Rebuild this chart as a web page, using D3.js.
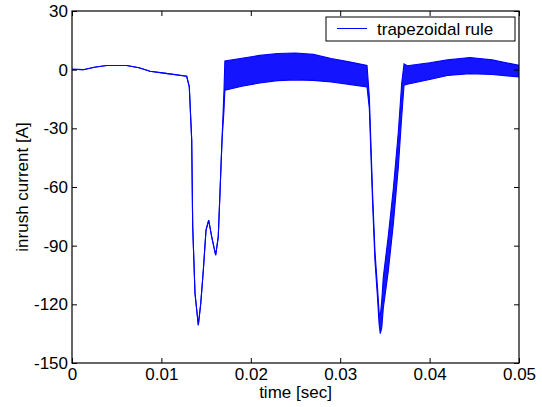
<!DOCTYPE html>
<html>

<head>
  <meta charset="utf-8">
  <title>Inrush current</title>
  <script src="https://cdnjs.cloudflare.com/ajax/libs/d3/7.8.5/d3.min.js"></script>
  <style>
    body {
      margin: 0;
      background: #fff;
    }

    text {
      font-family: "Liberation Sans", Arial, sans-serif;
      font-size: 17px;
      fill: #000;
    }
  </style>
</head>

<body>
  <div id="canvas"></div>

  <script>
    /*
    Data: time [s], upper and lower envelope of the current [A]
    (upper == lower where the trace is a single thin line)
    */
    var timeSec = [
      0, 0.00126, 0.0025, 0.00388, 0.00612, 0.0075, 0.00872, 0.0105, 0.01283,
      0.01312, 0.01339, 0.0135, 0.01376, 0.01413, 0.0144, 0.01469, 0.01499, 0.01529,
      0.01563, 0.01607, 0.01636, 0.01655, 0.01678, 0.017,
      0.0171, 0.019, 0.021, 0.023, 0.025, 0.027, 0.029, 0.031, 0.033,
      0.03326, 0.03363, 0.03389, 0.03415, 0.03435, 0.03448, 0.03465, 0.03482,
      0.03538, 0.03594, 0.0365, 0.03688, 0.03714,
      0.0375, 0.040, 0.042, 0.0445, 0.047, 0.050
    ];
    var upperA = [
      0.2, 0, 1.2, 2.1, 2.1, 1.0, -0.8, -1.9, -3.4,
      -8.8, -36, -80, -114.5, -130.7, -119.6, -102.6, -82, -77,
      -85.5, -94.9, -85.5, -63.3, -36, -10.5,
      4.4, 5.8, 7.3, 8.3, 8.5, 7.8, 5.7, 4.0, 2.2,
      -14, -64, -93, -110, -124, -126, -118, -106,
      -85, -61, -32, -7, 3,
      2, 3.5, 5, 6.2, 5, 2.2
    ];
    var lowerA = [
      0.2, 0, 1.2, 2.1, 2.1, 1.0, -0.8, -1.9, -3.4,
      -8.8, -36, -80, -114.5, -130.7, -119.6, -102.6, -82, -77,
      -85.5, -94.9, -85.5, -63.3, -36, -21,
      -10.5, -8.5, -6.8, -5.6, -5.2, -5.5, -6.3, -7.5, -8.8,
      -20, -69, -98, -115, -130, -135, -132, -122,
      -103, -79, -50, -24, -8,
      -7.5, -5, -3, -2, -2.5, -3.7
    ];
    var xTicks = [0, 0.01, 0.02, 0.03, 0.04, 0.05];
    var yTicks = [30, 0, -30, -60, -90, -120, -150];

    var outerWidth = 542,
      outerHeight = 407,
      margin = { "left": 72, "right": 23, "top": 11, "bottom": 44 },
      innerWidth = outerWidth - margin.left - margin.right,
      innerHeight = outerHeight - margin.top - margin.bottom;

    var data = timeSec.map(function (t, i) {
      return { t: t, hi: upperA[i], lo: lowerA[i] };
    });

    var x = d3.scaleLinear().domain([0, 0.05]).range([0, innerWidth]);
    var y = d3.scaleLinear().domain([-150, 30]).range([innerHeight, 0]);

    var svg = d3.select("#canvas")
      .append("svg")
      .attr("width", outerWidth)
      .attr("height", outerHeight);

    var g = svg.append("g")
      .attr("transform", "translate(" + margin.left + "," + margin.top + ")");

    // trace: filled band between envelopes plus its edges
    g.append("path")
      .datum(data)
      .attr("fill", "#0000ff")
      .attr("fill-opacity", 0.92)
      .attr("d", d3.area()
        .x((d) => x(d.t))
        .y0((d) => y(d.lo))
        .y1((d) => y(d.hi)));

    ["hi", "lo"].forEach(function (k) {
      g.append("path")
        .datum(data)
        .attr("fill", "none")
        .attr("stroke", "#0000ff")
        .attr("stroke-width", 1.1)
        .attr("d", d3.line()
          .x((d) => x(d.t))
          .y((d) => y(d[k])));
    });

    // axes, ticks pointing inwards
    var fmtX = (d) => d === 0 ? "0" : d3.format(".2f")(d);
    var fmtY = (d) => String(d);

    g.append("g")
      .attr("transform", "translate(0," + innerHeight + ")")
      .call(d3.axisBottom(x).tickValues(xTicks).tickFormat(fmtX)
        .tickSizeInner(-5).tickSizeOuter(0).tickPadding(5));
    g.append("g")
      .attr("class", "nolabels")
      .call(d3.axisTop(x).tickValues(xTicks)
        .tickSizeInner(-5).tickSizeOuter(0));
    g.append("g")
      .call(d3.axisLeft(y).tickValues(yTicks).tickFormat(fmtY)
        .tickSizeInner(-5).tickSizeOuter(0).tickPadding(4));
    g.append("g")
      .attr("class", "nolabels")
      .attr("transform", "translate(" + innerWidth + ",0)")
      .call(d3.axisRight(y).tickValues(yTicks)
        .tickSizeInner(-5).tickSizeOuter(0));

    g.selectAll(".domain").remove();
    g.selectAll(".nolabels text").remove();
    g.selectAll(".tick line").attr("stroke", "#000");
    g.selectAll(".tick text")
      .style("font-size", "17px")
      .style("font-family", "'Liberation Sans', Arial, sans-serif");

    g.append("rect")
      .attr("width", innerWidth)
      .attr("height", innerHeight)
      .attr("fill", "none")
      .attr("stroke", "#000")
      .attr("stroke-width", 1.2);

    // axis labels
    svg.append("text")
      .attr("x", margin.left + innerWidth / 2)
      .attr("y", 398)
      .attr("text-anchor", "middle")
      .text("time [sec]");

    svg.append("text")
      .attr("transform", "translate(28," + (margin.top + innerHeight / 2) + ") rotate(-90)")
      .attr("text-anchor", "middle")
      .text("inrush current [A]");

    // legend
    var lg = svg.append("g").attr("transform", "translate(326,17)");
    lg.append("rect")
      .attr("width", 189)
      .attr("height", 24)
      .attr("fill", "#fff")
      .attr("stroke", "#000")
      .attr("stroke-width", 1);
    lg.append("line")
      .attr("x1", 11).attr("x2", 41)
      .attr("y1", 11.5).attr("y2", 11.5)
      .attr("stroke", "#0000ff")
      .attr("stroke-width", 1);
    lg.append("text")
      .attr("x", 51)
      .attr("y", 18)
      .text("trapezoidal rule");
  </script>
</body>

</html>
